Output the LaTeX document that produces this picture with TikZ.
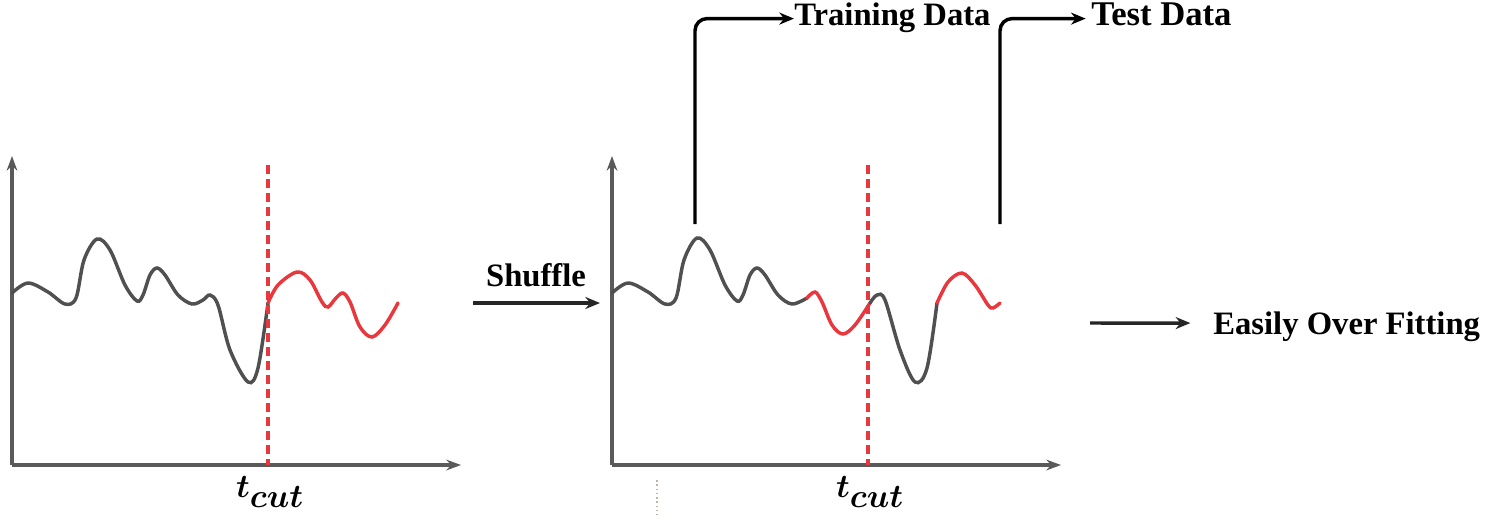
\documentclass[tikz,border=0pt]{standalone}
\usepackage{fontspec}
\usepackage{bm}
\setmainfont{Liberation Serif}
\usetikzlibrary{arrows.meta}
\definecolor{curvegray}{HTML}{505050}
\definecolor{axisgray}{HTML}{5A5A5A}
\definecolor{cutred}{HTML}{E8383D}
\tikzset{
  axis/.style={draw=axisgray, line width=2.4pt, -{Stealth[length=11pt,width=8pt]}},
  grayseg/.style={draw=curvegray, line width=2.6pt, line cap=round},
  redseg/.style={draw=cutred, line width=2.6pt, line cap=round},
  cutline/.style={draw=cutred, line width=2.4pt, dash pattern=on 7pt off 3.5pt},
  conn/.style={draw=black, line width=2.6pt, rounded corners=9pt, -{Stealth[length=11pt,width=9pt]}},
  harrow/.style={draw=black!85, line width=2.6pt, -{Stealth[length=11pt,width=9pt]}},
  lbl/.style={font=\fontsize{24.5}{28}\selectfont\bfseries, inner sep=0pt},
  tlbl/.style={font=\fontsize{34}{38}\selectfont, inner sep=0pt}
}
\begin{document}
\begin{tikzpicture}[x=0.75pt,y=-0.75pt]
\useasboundingbox (0,0) rectangle (1494,522);
% ---------- left plot ----------
\coordinate (lo) at (12,465);
\coordinate (ly) at (12,156);
\coordinate (lx) at (461,465);
\draw[axis] (lo) -- (ly);
\draw[axis] (lo) -- (lx);
\draw[grayseg] plot[smooth,tension=0.55] coordinates {(12,293) (28,283) (48,292) (65,304) (76,298) (84,260) (97,239) (110,250) (125,285) (137,301) (143,295) (150,275) (157,268) (165,275) (178,295) (192,304) (203,300) (210,295) (218,305) (230,350) (248,382) (258,368) (268,303)};
\draw[redseg] plot[smooth,tension=0.55] coordinates {(268,303) (278,285) (297,272) (310,280) (322,302) (328,307) (336,298) (343,293) (350,302) (360,327) (372,337) (385,325) (398,303)};
\coordinate (lcTop) at (268,165);
\coordinate (lcBot) at (268,465);
\draw[cutline] (lcTop) -- (lcBot);
\node[tlbl] (lcut) at (270,492) {$\bm{t_{cut}}$};
% ---------- shuffle arrow ----------
\coordinate (shA) at (473,303);
\coordinate (shB) at (600,303);
\draw[harrow] (shA) -- (shB);
\node[lbl] (shuffle) at (536,275) {Shuffle};
% ---------- right plot ----------
\coordinate (ro) at (612,465);
\coordinate (ry) at (612,156);
\coordinate (rx) at (1061,465);
\draw[axis] (ro) -- (ry);
\draw[axis] (ro) -- (rx);
\draw[grayseg] plot[smooth,tension=0.55] coordinates {(612,293) (628,283) (648,292) (665,304) (676,298) (684,260) (697,238) (710,250) (725,285) (737,301) (743,295) (750,275) (757,268) (765,275) (778,295) (792,304) (807,298)};
\draw[redseg] plot[smooth,tension=0.55] coordinates {(807,298) (815,292) (822,302) (832,325) (843,334) (855,325) (870,303)};
\draw[grayseg] plot[smooth,tension=0.55] coordinates {(870,303) (877,295) (885,300) (900,350) (915,382) (927,368) (937,303)};
\draw[redseg] plot[smooth,tension=0.55] coordinates {(937,303) (948,282) (962,273) (975,285) (988,305) (993,308) (1000,303)};
\coordinate (rcTop) at (868,165);
\coordinate (rcBot) at (868,465);
\draw[cutline] (rcTop) -- (rcBot);
\node[tlbl] (rcut) at (870,492) {$\bm{t_{cut}}$};
\coordinate (dotA) at (657,480);
\coordinate (dotB) at (657,515);
\draw[draw=gray!60!brown!60, line width=1.2pt, dotted] (dotA) -- (dotB);
% ---------- training / test ----------
\node[lbl, anchor=base west] (train) at (794,25) {Training Data};
\node[lbl, anchor=base west, font=\fontsize{26}{30}\selectfont\bfseries] (test) at (1091,25) {Test Data};
\coordinate (trStart) at (695,224);
\coordinate (teStart) at (1000,224);
\draw[conn] (trStart) |- ([yshift=4.8pt]train.base west);
\draw[conn] (teStart) |- ([xshift=-4pt,yshift=4.8pt]test.base west);
% ---------- over fitting ----------
\node[lbl, anchor=base west] (over) at (1213,334) {Easily Over Fitting};
\coordinate (ofA) at (1090,323);
\draw[harrow] (ofA) -- ([xshift=-17pt,yshift=8.2pt]over.base west);
\end{tikzpicture}
\end{document}
